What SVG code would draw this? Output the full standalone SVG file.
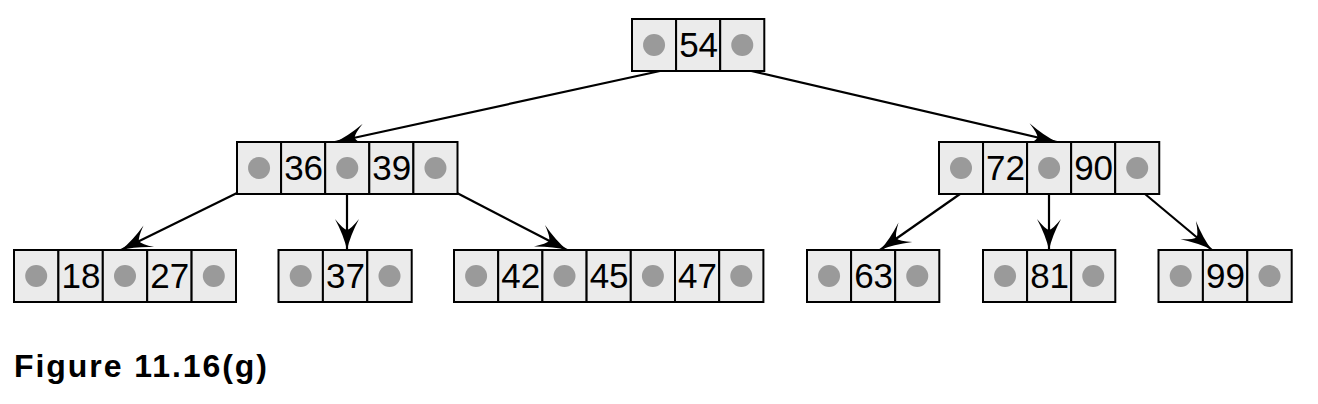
<svg xmlns="http://www.w3.org/2000/svg" width="1318" height="404" viewBox="0 0 1318 404">
<style>
.c{fill:#ebebeb;stroke:#000;stroke-width:2}
.d{fill:#9a9a9a}
.t{font-family:"Liberation Sans",Arial,sans-serif;font-size:35px;fill:#000;text-anchor:middle}
.e{stroke:#000;stroke-width:2.2;fill:none}
.cap{font-family:"Liberation Sans",Arial,sans-serif;font-weight:bold;font-size:32px;fill:#000}
</style>
<defs>
<marker id="ah" markerUnits="userSpaceOnUse" orient="auto" refX="0" refY="0" markerWidth="40" markerHeight="30" viewBox="-35 -15 40 30" overflow="visible">
<path d="M0,0 Q-14,-3 -31,-12 Q-21,-4 -20,0 Q-21,4 -31,12 Q-14,3 0,0 Z" fill="#000"/>
</marker>
</defs>
<g id="connectors">
<line class="e" x1="660" y1="71" x2="335" y2="142" marker-end="url(#ah)"/>
<line class="e" x1="747" y1="70" x2="1057" y2="142" marker-end="url(#ah)"/>
<line class="e" x1="237" y1="193" x2="121" y2="250" marker-end="url(#ah)"/>
<line class="e" x1="347" y1="194" x2="347" y2="250" marker-end="url(#ah)"/>
<line class="e" x1="457" y1="193" x2="567" y2="250" marker-end="url(#ah)"/>
<line class="e" x1="960" y1="194" x2="880" y2="250" marker-end="url(#ah)"/>
<line class="e" x1="1049" y1="194" x2="1049" y2="250" marker-end="url(#ah)"/>
<line class="e" x1="1145" y1="194" x2="1212" y2="250" marker-end="url(#ah)"/>
</g>
<g id="root">
<rect class="c" x="632" y="19" width="44.1" height="52"/><circle class="d" cx="654.05" cy="45" r="11"/>
<rect class="c" x="676.1" y="19" width="44.1" height="52"/><text class="t" x="698.6" y="57">54</text>
<rect class="c" x="720.2" y="19" width="44.1" height="52"/><circle class="d" cx="742.25" cy="45" r="11"/>
</g>
<g id="node-36-39">
<rect class="c" x="237" y="142" width="44.1" height="52"/><circle class="d" cx="259.05" cy="168" r="11"/>
<rect class="c" x="281.1" y="142" width="44.1" height="52"/><text class="t" x="303.6" y="180">36</text>
<rect class="c" x="325.2" y="142" width="44.1" height="52"/><circle class="d" cx="347.25" cy="168" r="11"/>
<rect class="c" x="369.3" y="142" width="44.1" height="52"/><text class="t" x="391.8" y="180">39</text>
<rect class="c" x="413.4" y="142" width="44.1" height="52"/><circle class="d" cx="435.45" cy="168" r="11"/>
</g>
<g id="node-72-90">
<rect class="c" x="939" y="142" width="44.05" height="52"/><circle class="d" cx="961" cy="168" r="11"/>
<rect class="c" x="983.05" y="142" width="44.05" height="52"/><text class="t" x="1005.5" y="180">72</text>
<rect class="c" x="1027.1" y="142" width="44.05" height="52"/><circle class="d" cx="1049.1" cy="168" r="11"/>
<rect class="c" x="1071.15" y="142" width="44.05" height="52"/><text class="t" x="1093.6" y="180">90</text>
<rect class="c" x="1115.2" y="142" width="44.05" height="52"/><circle class="d" cx="1137.2" cy="168" r="11"/>
</g>
<g id="leaf-18-27">
<rect class="c" x="14" y="250" width="44.4" height="52"/><circle class="d" cx="36.2" cy="276" r="11"/>
<rect class="c" x="58.4" y="250" width="44.4" height="52"/><text class="t" x="81" y="288">18</text>
<rect class="c" x="102.8" y="250" width="44.4" height="52"/><circle class="d" cx="125" cy="276" r="11"/>
<rect class="c" x="147.2" y="250" width="44.4" height="52"/><text class="t" x="169.8" y="288">27</text>
<rect class="c" x="191.6" y="250" width="44.4" height="52"/><circle class="d" cx="213.8" cy="276" r="11"/>
</g>
<g id="leaf-37">
<rect class="c" x="278.5" y="250" width="44.4" height="52"/><circle class="d" cx="300.7" cy="276" r="11"/>
<rect class="c" x="322.9" y="250" width="44.4" height="52"/><text class="t" x="345.5" y="288">37</text>
<rect class="c" x="367.3" y="250" width="44.4" height="52"/><circle class="d" cx="389.5" cy="276" r="11"/>
</g>
<g id="leaf-42-45-47">
<rect class="c" x="454" y="250" width="44.2" height="52"/><circle class="d" cx="476.1" cy="276" r="11"/>
<rect class="c" x="498.2" y="250" width="44.2" height="52"/><text class="t" x="520.7" y="288">42</text>
<rect class="c" x="542.4" y="250" width="44.2" height="52"/><circle class="d" cx="564.5" cy="276" r="11"/>
<rect class="c" x="586.6" y="250" width="44.2" height="52"/><text class="t" x="609.1" y="288">45</text>
<rect class="c" x="630.8" y="250" width="44.2" height="52"/><circle class="d" cx="652.9" cy="276" r="11"/>
<rect class="c" x="675" y="250" width="44.2" height="52"/><text class="t" x="697.5" y="288">47</text>
<rect class="c" x="719.2" y="250" width="44.2" height="52"/><circle class="d" cx="741.3" cy="276" r="11"/>
</g>
<g id="leaf-63">
<rect class="c" x="807" y="250" width="44.1" height="52"/><circle class="d" cx="829.05" cy="276" r="11"/>
<rect class="c" x="851.1" y="250" width="44.1" height="52"/><text class="t" x="873.6" y="288">63</text>
<rect class="c" x="895.2" y="250" width="44.1" height="52"/><circle class="d" cx="917.25" cy="276" r="11"/>
</g>
<g id="leaf-81">
<rect class="c" x="983" y="250" width="44.1" height="52"/><circle class="d" cx="1005.05" cy="276" r="11"/>
<rect class="c" x="1027.1" y="250" width="44.1" height="52"/><text class="t" x="1049.6" y="288">81</text>
<rect class="c" x="1071.2" y="250" width="44.1" height="52"/><circle class="d" cx="1093.25" cy="276" r="11"/>
</g>
<g id="leaf-99">
<rect class="c" x="1158.5" y="250" width="44.4" height="52"/><circle class="d" cx="1180.7" cy="276" r="11"/>
<rect class="c" x="1202.9" y="250" width="44.4" height="52"/><text class="t" x="1225.5" y="288">99</text>
<rect class="c" x="1247.3" y="250" width="44.4" height="52"/><circle class="d" cx="1269.5" cy="276" r="11"/>
</g>
<text class="cap" x="14" y="377" textLength="253" lengthAdjust="spacing">Figure 11.16(g)</text>
</svg>
